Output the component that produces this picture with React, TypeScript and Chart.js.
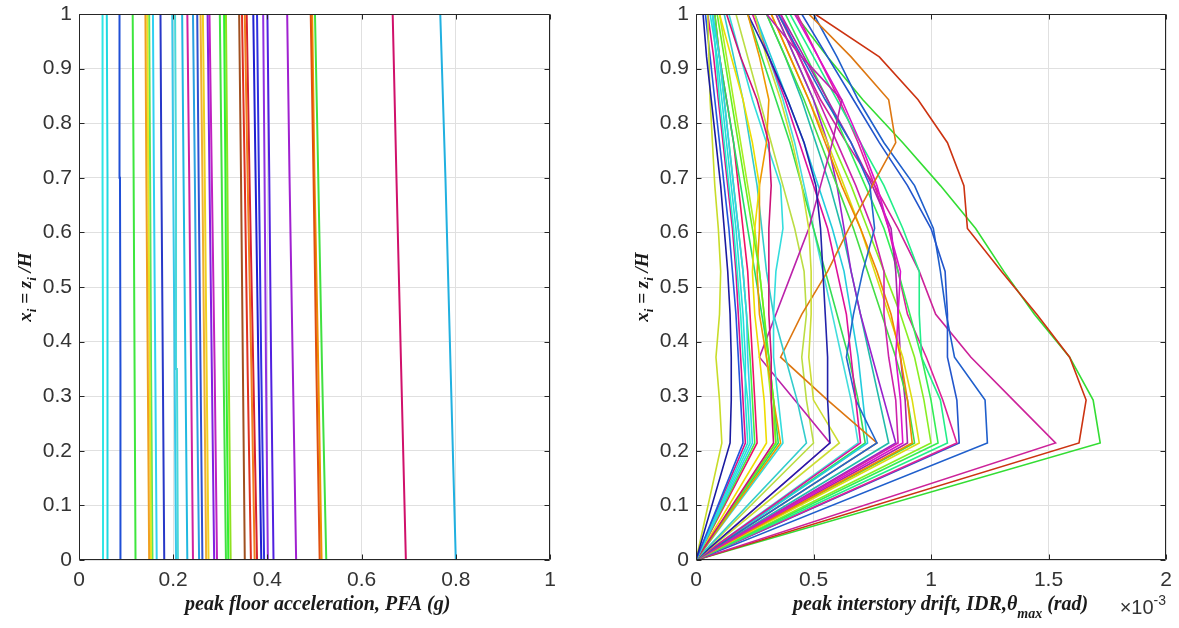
import { useEffect, useRef } from 'react';
import { Chart, registerables } from 'chart.js';
Chart.register(...registerables);

// ---------- DATA ----------
const Y_TICKS = [0, 0.1, 0.2, 0.3, 0.4, 0.5, 0.6, 0.7, 0.8, 0.9, 1];
const PFA_TICKS = [0, 0.2, 0.4, 0.6, 0.8, 1];
const IDR_TICKS = [0, 0.5, 1, 1.5, 2];

// normalized heights where PFA values were read
const PFA_LEVELS = [0, 0.35, 0.7, 1];
// normalized floor heights for IDR profiles
const IDR_LEVELS = [0, 0.2143, 0.2929, 0.3714, 0.45, 0.5286, 0.6071, 0.6857, 0.7643, 0.8429, 0.9214, 1];

// peak floor acceleration profiles (g), bottom -> top
const PFA_VALUES: number[][] = [
  [0.052, 0.051, 0.050, 0.050],
  [0.061, 0.061, 0.060, 0.059],
  [0.089, 0.088, 0.087, 0.086],
  [0.120, 0.118, 0.116, 0.114],
  [0.149, 0.146, 0.143, 0.141],
  [0.153, 0.150, 0.147, 0.145],
  [0.156, 0.153, 0.151, 0.149],
  [0.165, 0.162, 0.159, 0.157],
  [0.181, 0.178, 0.175, 0.173],
  [0.206, 0.203, 0.200, 0.198],
  [0.210, 0.208, 0.206, 0.204],
  [0.230, 0.226, 0.222, 0.219],
  [0.242, 0.238, 0.234, 0.230],
  [0.255, 0.250, 0.246, 0.242],
  [0.262, 0.258, 0.254, 0.251],
  [0.275, 0.271, 0.267, 0.263],
  [0.270, 0.266, 0.262, 0.258],
  [0.287, 0.282, 0.277, 0.273],
  [0.293, 0.288, 0.282, 0.277],
  [0.312, 0.307, 0.303, 0.299],
  [0.317, 0.313, 0.311, 0.308],
  [0.322, 0.318, 0.315, 0.312],
  [0.352, 0.348, 0.344, 0.340],
  [0.365, 0.358, 0.352, 0.346],
  [0.373, 0.366, 0.358, 0.352],
  [0.378, 0.370, 0.362, 0.356],
  [0.387, 0.381, 0.375, 0.370],
  [0.393, 0.387, 0.382, 0.378],
  [0.401, 0.397, 0.394, 0.391],
  [0.413, 0.408, 0.404, 0.400],
  [0.461, 0.454, 0.447, 0.442],
  [0.511, 0.504, 0.498, 0.492],
  [0.515, 0.508, 0.500, 0.495],
  [0.525, 0.516, 0.508, 0.501],
  [0.694, 0.684, 0.674, 0.666],
  [0.800, 0.789, 0.778, 0.767],
];
const PFA_COLORS = [
  '#2ee6e6', '#1fd8e0', '#1f4fd6', '#3ee63e', '#f0a020', '#e6e620', '#5ce65c', '#30d0f0',
  '#2838c8', '#38c8e8', '#4ad8d8', '#20b8e0', '#d020a0', '#2aa0e0', '#3050d0', '#f0d020',
  '#f0b030', '#8020e0', '#c020c0', '#40e040', '#30f030', '#90e020', '#a05020', '#e03020',
  '#f08020', '#d82030', '#2020d0', '#3030e0', '#9030e0', '#5020e0', '#a020d0', '#e05010',
  '#f09000', '#40e040', '#d0106a', '#20b0e0',
];

// peak interstory drift profiles (x 1e-3 rad), bottom -> top
const IDR_VALUES: number[][] = [
  [0, 0.145, 0.15, 0.15, 0.145, 0.135, 0.12, 0.105, 0.085, 0.065, 0.045, 0.03],
  [0, 0.11, 0.10, 0.085, 0.10, 0.105, 0.095, 0.08, 0.07, 0.06, 0.055, 0.05],
  [0, 0.20, 0.19, 0.18, 0.17, 0.155, 0.14, 0.12, 0.10, 0.08, 0.06, 0.04],
  [0, 0.22, 0.21, 0.21, 0.20, 0.185, 0.17, 0.15, 0.13, 0.11, 0.09, 0.06],
  [0, 0.24, 0.23, 0.22, 0.215, 0.20, 0.18, 0.16, 0.14, 0.12, 0.10, 0.07],
  [0, 0.23, 0.22, 0.20, 0.19, 0.175, 0.16, 0.14, 0.12, 0.10, 0.085, 0.07],
  [0, 0.21, 0.20, 0.19, 0.18, 0.17, 0.155, 0.135, 0.115, 0.095, 0.075, 0.05],
  [0, 0.25, 0.24, 0.23, 0.215, 0.20, 0.18, 0.16, 0.14, 0.12, 0.10, 0.08],
  [0, 0.33, 0.32, 0.32, 0.31, 0.31, 0.31, 0.32, 0.31, 0.26, 0.19, 0.13],
  [0, 0.34, 0.33, 0.31, 0.29, 0.27, 0.24, 0.21, 0.18, 0.15, 0.12, 0.09],
  [0, 0.30, 0.29, 0.27, 0.25, 0.24, 0.25, 0.27, 0.24, 0.20, 0.15, 0.10],
  [0, 0.36, 0.33, 0.30, 0.27, 0.26, 0.27, 0.27, 0.30, 0.31, 0.27, 0.22],
  [0, 0.37, 0.35, 0.33, 0.33, 0.34, 0.37, 0.36, 0.30, 0.24, 0.19, 0.14],
  [0, 0.35, 0.33, 0.31, 0.28, 0.25, 0.22, 0.19, 0.16, 0.13, 0.10, 0.07],
  [0, 0.34, 0.32, 0.30, 0.29, 0.27, 0.25, 0.22, 0.19, 0.16, 0.13, 0.10],
  [0, 0.47, 0.43, 0.38, 0.33, 0.30, 0.28, 0.26, 0.23, 0.20, 0.16, 0.12],
  [0, 0.57, 0.56, 0.56, 0.55, 0.54, 0.53, 0.51, 0.46, 0.39, 0.31, 0.22],
  [0, 0.61, 0.50, 0.48, 0.49, 0.49, 0.48, 0.45, 0.41, 0.36, 0.30, 0.25],
  [0, 0.57, 0.42, 0.27, 0.34, 0.41, 0.48, 0.53, 0.58, 0.62, 0.45, 0.30],
  [0, 0.70, 0.68, 0.66, 0.64, 0.60, 0.56, 0.50, 0.44, 0.38, 0.31, 0.24],
  [0, 0.77, 0.68, 0.64, 0.67, 0.71, 0.76, 0.74, 0.66, 0.55, 0.45, 0.35],
  [0, 0.77, 0.56, 0.36, 0.45, 0.56, 0.65, 0.75, 0.85, 0.82, 0.66, 0.48],
  [0, 0.73, 0.71, 0.69, 0.66, 0.63, 0.58, 0.52, 0.46, 0.39, 0.32, 0.25],
  [0, 0.72, 0.69, 0.65, 0.60, 0.55, 0.50, 0.45, 0.40, 0.34, 0.28, 0.22],
  [0, 0.86, 0.85, 0.82, 0.80, 0.80, 0.75, 0.68, 0.60, 0.52, 0.44, 0.36],
  [0, 0.88, 0.87, 0.85, 0.86, 0.87, 0.82, 0.77, 0.70, 0.62, 0.52, 0.42],
  [0, 0.92, 0.90, 0.87, 0.83, 0.77, 0.70, 0.62, 0.55, 0.48, 0.40, 0.32],
  [0, 0.95, 0.92, 0.88, 0.82, 0.76, 0.70, 0.63, 0.56, 0.48, 0.40, 0.32],
  [0, 0.93, 0.90, 0.85, 0.79, 0.73, 0.67, 0.60, 0.53, 0.46, 0.38, 0.30],
  [0, 0.90, 0.89, 0.87, 0.86, 0.85, 0.83, 0.75, 0.66, 0.56, 0.46, 0.36],
  [0, 1.03, 1.00, 0.96, 0.91, 0.86, 0.80, 0.72, 0.64, 0.56, 0.47, 0.38],
  [0, 1.07, 1.04, 0.96, 0.95, 0.95, 0.88, 0.80, 0.70, 0.60, 0.50, 0.40],
  [0, 1.11, 1.05, 0.98, 0.90, 0.86, 0.82, 0.76, 0.69, 0.61, 0.52, 0.43],
  [0, 1.12, 1.11, 1.07, 1.07, 1.06, 1.00, 0.90, 0.78, 0.67, 0.56, 0.45],
  [0, 1.24, 1.23, 1.10, 1.065, 1.04, 1.01, 0.93, 0.80, 0.69, 0.60, 0.50],
  [0, 1.53, 1.35, 1.17, 1.02, 0.95, 0.86, 0.76, 0.64, 0.53, 0.44, 0.35],
  [0, 1.63, 1.66, 1.59, 1.45, 1.30, 1.155, 1.14, 1.07, 0.945, 0.78, 0.506],
  [0, 1.72, 1.69, 1.59, 1.44, 1.31, 1.19, 1.04, 0.88, 0.71, 0.56, 0.42],
  [0, 0.85, 0.80, 0.75, 0.70, 0.66, 0.63, 0.60, 0.56, 0.50, 0.42, 0.34],
  [0, 0.69, 0.66, 0.62, 0.58, 0.54, 0.50, 0.46, 0.42, 0.37, 0.31, 0.25],
  [0, 1.00, 0.97, 0.93, 0.87, 0.80, 0.73, 0.66, 0.58, 0.50, 0.42, 0.34],
  [0, 0.50, 0.47, 0.45, 0.47, 0.46, 0.42, 0.37, 0.32, 0.27, 0.22, 0.17],
  [0, 0.82, 0.78, 0.74, 0.70, 0.66, 0.62, 0.57, 0.51, 0.45, 0.38, 0.30],
  [0, 0.26, 0.25, 0.24, 0.23, 0.22, 0.20, 0.18, 0.16, 0.13, 0.10, 0.08],
];
const IDR_COLORS = [
  '#1a1aa0', '#c8dc28', '#2255dd', '#22dddd', '#33ccee', '#22eecc', '#dd1188', '#44ee44',
  '#cc1177', '#66ee22', '#eedd00', '#ee9900', '#33dddd', '#22dd66', '#aaee22', '#33cccc',
  '#2222aa', '#ccdd33', '#bb22aa', '#dd1199', '#2266cc', '#dd7711', '#22ccdd', '#33dd55',
  '#cc22aa', '#dd11cc', '#ee8800', '#dddd11', '#44dd44', '#aa22aa', '#33ee55', '#22ee88',
  '#dd2299', '#2255cc', '#1f5fcc', '#cc2299', '#cc3311', '#33dd33', '#9922cc', '#44dddd',
  '#88ee22', '#bbdd44', '#22bbaa', '#ee1166',
];

// ---------- STYLE HELPERS ----------
const TXT = '#333333';
const TICK_FONT = { family: '"Liberation Sans", Arial, Helvetica, sans-serif', size: 21 };
const BI = 'italic bold 20px "Liberation Serif", "Times New Roman", serif';
const BI_SUB = 'italic bold 14px "Liberation Serif", "Times New Roman", serif';
const BI_Y = 'italic bold 19px "Liberation Serif", "Times New Roman", serif';
const BI_YSUB = 'italic bold 13px "Liberation Serif", "Times New Roman", serif';

type Seg = { t: string; font: string; dy?: number };
function drawSegs(ctx: CanvasRenderingContext2D, segs: Seg[], x: number, y: number, align: 'left' | 'center' | 'right') {
  let w = 0;
  for (const s of segs) { ctx.font = s.font; w += ctx.measureText(s.t).width; }
  let cx = align === 'center' ? x - w / 2 : align === 'right' ? x - w : x;
  ctx.textAlign = 'left';
  ctx.textBaseline = 'alphabetic';
  for (const s of segs) {
    ctx.font = s.font;
    ctx.fillText(s.t, cx, y + (s.dy || 0));
    cx += ctx.measureText(s.t).width;
  }
}

const yTitleSegs: Seg[] = [
  { t: 'x', font: BI_Y }, { t: 'i', font: BI_YSUB, dy: 5 }, { t: ' = z', font: BI_Y },
  { t: 'i', font: BI_YSUB, dy: 5 }, { t: ' /H', font: BI_Y },
];

function makePlugin(xTitle: Seg[], xTitleX: number, extra?: (ctx: CanvasRenderingContext2D, a: any) => void) {
  return {
    id: 'matlabDecor',
    afterDatasetsDraw(chart: any) {
      const { ctx, chartArea: a, scales } = chart;
      ctx.save();
      ctx.strokeStyle = '#262626';
      ctx.lineWidth = 1;
      const L = Math.round(a.left) + 0.5, R = Math.round(a.right) - 0.5;
      const T = Math.round(a.top) + 0.5, B = Math.round(a.bottom) - 0.5;
      ctx.beginPath();
      ctx.rect(L, T, R - L, B - T);
      const tl = 5;
      for (const t of scales.x.ticks) {
        const px = Math.round(scales.x.getPixelForValue(t.value)) + 0.5;
        ctx.moveTo(px, B); ctx.lineTo(px, B - tl);
        ctx.moveTo(px, T); ctx.lineTo(px, T + tl);
      }
      for (const t of scales.y.ticks) {
        const py = Math.round(scales.y.getPixelForValue(t.value)) + 0.5;
        ctx.moveTo(L, py); ctx.lineTo(L + tl, py);
        ctx.moveTo(R, py); ctx.lineTo(R - tl, py);
      }
      ctx.stroke();
      ctx.restore();
    },
    afterDraw(chart: any) {
      const { ctx, chartArea: a } = chart;
      ctx.save();
      ctx.fillStyle = '#1a1a1a';
      ctx.save();
      ctx.translate(a.left - 54, (a.top + a.bottom) / 2);
      ctx.rotate(-Math.PI / 2);
      drawSegs(ctx, yTitleSegs, 0, 6, 'center');
      ctx.restore();
      drawSegs(ctx, xTitle, xTitleX, 610, 'left');
      if (extra) extra(ctx, a);
      ctx.restore();
    },
  };
}

function makeConfig(
  levels: number[], values: number[][], colors: string[], xTicks: number[], xMax: number,
  padLeft: number, padRight: number, lineW: number, plugin: any,
) {
  const datasets = values.map((vals, i) => ({
    data: vals.map((v, k) => ({ x: v, y: levels[k] })),
    borderColor: colors[i % colors.length],
    backgroundColor: colors[i % colors.length],
    borderWidth: lineW,
    pointRadius: 0,
    tension: 0,
    fill: false,
  }));
  const grid = { color: '#e0e0e0', lineWidth: 1, drawTicks: false };
  return {
    type: 'line' as const,
    data: { datasets },
    plugins: [plugin],
    options: {
      responsive: false,
      animation: false as const,
      devicePixelRatio: 1,
      layout: { padding: { left: padLeft, right: padRight, top: 14, bottom: 0 } },
      plugins: { legend: { display: false }, tooltip: { enabled: false } },
      scales: {
        x: {
          type: 'linear' as const, min: 0, max: xMax,
          grid, border: { display: false },
          afterBuildTicks: (s: any) => { s.ticks = xTicks.map((v) => ({ value: v })); },
          afterFit: (s: any) => { s.height = 68; s.paddingLeft = 0; s.paddingRight = 0; },
          ticks: { font: TICK_FONT, color: TXT, padding: 8, maxRotation: 0, callback: (v: any) => String(v) },
        },
        y: {
          type: 'linear' as const, min: 0, max: 1,
          grid, border: { display: false },
          afterBuildTicks: (s: any) => { s.ticks = Y_TICKS.map((v) => ({ value: v })); },
          afterFit: (s: any) => { s.width = 79; s.paddingTop = 0; s.paddingBottom = 0; },
          ticks: { font: TICK_FONT, color: TXT, padding: 7, callback: (v: any) => String(v) },
        },
      },
    },
  };
}

export default function App() {
  const leftRef = useRef<HTMLCanvasElement>(null);
  const rightRef = useRef<HTMLCanvasElement>(null);
  useEffect(() => {
    const leftPlugin = makePlugin(
      [{ t: 'peak floor acceleration, PFA (g)', font: BI }], 185,
    );
    const rightPlugin = makePlugin(
      [
        { t: 'peak interstory drift, IDR,', font: BI },
        { t: 'θ', font: BI },
        { t: 'max', font: BI_SUB, dy: 8 },
        { t: ' (rad)', font: BI },
      ],
      203,
      (ctx, a) => {
        ctx.fillStyle = TXT;
        drawSegs(ctx, [
          { t: '×10', font: '20px "Liberation Sans", Arial, sans-serif' },
          { t: '-3', font: '14px "Liberation Sans", Arial, sans-serif', dy: -9 },
        ], a.right, 614, 'right');
      },
    );
    const c1 = new Chart(leftRef.current!, makeConfig(PFA_LEVELS, PFA_VALUES, PFA_COLORS, PFA_TICKS, 1, 0, 40, 2, leftPlugin) as any);
    const c2 = new Chart(rightRef.current!, makeConfig(IDR_LEVELS, IDR_VALUES, IDR_COLORS, IDR_TICKS, 2, 27, 13, 1.6, rightPlugin) as any);
    return () => { c1.destroy(); c2.destroy(); };
  }, []);
  return (
    <div style={{ position: 'absolute', left: 0, top: 0, width: 1179, height: 628, background: '#fff' }}>
      <canvas ref={leftRef} width={590} height={628} style={{ position: 'absolute', left: 0, top: 0, width: 590, height: 628 }} />
      <canvas ref={rightRef} width={589} height={628} style={{ position: 'absolute', left: 590, top: 0, width: 589, height: 628 }} />
    </div>
  );
}
